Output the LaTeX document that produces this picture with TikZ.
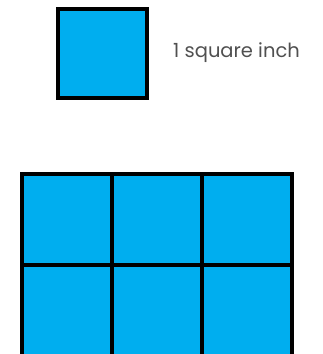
\documentclass[tikz,border=0pt]{standalone}
\usepackage{fontspec}
\setmainfont{Poppins}
\usepackage{xcolor}
\definecolor{sqblue}{RGB}{0,174,239}
\definecolor{lblgray}{RGB}{80,80,80}

\begin{document}
\begin{tikzpicture}[x=1pt, y=-1pt, font=\fontsize{19.5}{22}\selectfont]
  \useasboundingbox (0,0) rectangle (322,354);
  \clip (0,0) rectangle (322,354);
  \draw[fill=sqblue, draw=black, line width=4pt] (58,9) rectangle (147,98);
  \node[anchor=west, text=lblgray, inner sep=0pt] (lbl) at (173,53) {1 square inch};
  \foreach \c in {0,1,2} {
    \foreach \r in {0,1} {
      \draw[fill=sqblue, draw=black, line width=4pt] (22+\c*90,174+\r*91) rectangle ++(90,91);
    }
  }
\end{tikzpicture}
\end{document}
